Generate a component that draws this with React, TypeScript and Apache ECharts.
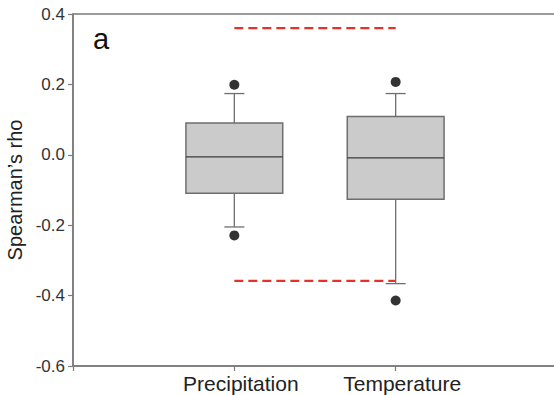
import React, { useEffect, useRef } from "react";
import * as echarts from "echarts";

const categories = ["Precipitation", "Temperature"];
const positions = [1, 2];
const lowerWhisker = [-0.205, -0.366];
const q1 = [-0.109, -0.126];
const median = [-0.006, -0.009];
const q3 = [0.09, 0.109];
const upperWhisker = [0.174, 0.174];
const outliers: [number, number][] = [
  [1, 0.199],
  [1, -0.229],
  [2, 0.207],
  [2, -0.414],
];
const upperThreshold = 0.36;
const lowerThreshold = -0.358;
const yTicks = { min: -0.6, max: 0.4, interval: 0.2 };

const FONT = "'Liberation Sans', Arial, Helvetica, sans-serif";

export default function App() {
  const ref = useRef<HTMLDivElement>(null);
  useEffect(() => {
    if (!ref.current) return;
    const chart = echarts.init(ref.current, null, { renderer: "svg" });
    const boxData = positions.map((p, i) => [
      p,
      lowerWhisker[i],
      q1[i],
      median[i],
      q3[i],
      upperWhisker[i],
    ]);
    const option: any = {
      animation: false,
      backgroundColor: "#ffffff",
      textStyle: { fontFamily: FONT },
      grid: {
        left: 73,
        top: 14,
        width: 484,
        bottom: 29,
        show: true,
        borderColor: "#7a7a7a",
        borderWidth: 1.5,
        backgroundColor: "transparent",
        containLabel: false,
        outerBoundsMode: "none",
      },
      xAxis: {
        type: "value",
        min: 0,
        max: 3,
        interval: 1,
        splitLine: { show: false },
        axisLine: { onZero: false, lineStyle: { color: "#7a7a7a", width: 1.5 } },
        axisTick: { show: true, length: 5, lineStyle: { color: "#7a7a7a", width: 1.2 } },
        axisLabel: {
          color: "#222",
          fontSize: 21,
          fontFamily: FONT,
          margin: 7,
          padding: [0, 0, 0, 13],
          formatter: (v: number) => {
            const idx = positions.indexOf(Math.round(v));
            return idx >= 0 && Math.abs(v - positions[idx]) < 1e-6 ? categories[idx] : "";
          },
        },
      },
      yAxis: {
        type: "value",
        min: yTicks.min,
        max: yTicks.max,
        interval: yTicks.interval,
        name: "Spearman\u2019s rho",
        nameLocation: "middle",
        nameGap: 46,
        nameTextStyle: { color: "#222", fontSize: 20, fontFamily: FONT },
        splitLine: { show: false },
        axisLine: { show: true, onZero: false, lineStyle: { color: "#7a7a7a", width: 1.5 } },
        axisTick: { show: true, length: 5, lineStyle: { color: "#7a7a7a", width: 1.2 } },
        axisLabel: {
          color: "#333",
          fontSize: 17,
          fontFamily: FONT,
          margin: 8,
          formatter: (v: number) => (Math.abs(v) < 1e-9 ? 0 : v).toFixed(1),
        },
      },
      graphic: [
        {
          type: "text",
          left: 93,
          top: 24,
          style: { text: "a", fontSize: 29, fontFamily: FONT, fill: "#111" },
        },
      ],
      series: [
        {
          type: "line",
          data: [
            [positions[0], upperThreshold],
            [positions[1], upperThreshold],
          ],
          symbol: "none",
          lineStyle: { color: "#e8302a", width: 2.2, type: [9, 5] },
          z: 1,
        },
        {
          type: "line",
          data: [
            [positions[0], lowerThreshold],
            [positions[1], lowerThreshold],
          ],
          symbol: "none",
          lineStyle: { color: "#e8302a", width: 2.2, type: [9, 5] },
          z: 1,
        },
        {
          type: "custom",
          z: 2,
          data: boxData,
          renderItem: (params: any, api: any) => {
            const x = api.value(0);
            const lw = api.coord([x, api.value(1)]);
            const b1 = api.coord([x, api.value(2)]);
            const md = api.coord([x, api.value(3)]);
            const b3 = api.coord([x, api.value(4)]);
            const uw = api.coord([x, api.value(5)]);
            const band = api.size([1, 0])[0];
            const half = band * 0.3;
            const cap = band * 0.062;
            const cx = lw[0];
            const gray = "#6e6e6e";
            return {
              type: "group",
              children: [
                {
                  type: "line",
                  shape: { x1: cx, y1: uw[1], x2: cx, y2: b3[1] },
                  style: { stroke: gray, lineWidth: 1.3 },
                },
                {
                  type: "line",
                  shape: { x1: cx, y1: b1[1], x2: cx, y2: lw[1] },
                  style: { stroke: gray, lineWidth: 1.3 },
                },
                {
                  type: "line",
                  shape: { x1: cx - cap, y1: uw[1], x2: cx + cap, y2: uw[1] },
                  style: { stroke: gray, lineWidth: 1.3 },
                },
                {
                  type: "line",
                  shape: { x1: cx - cap, y1: lw[1], x2: cx + cap, y2: lw[1] },
                  style: { stroke: gray, lineWidth: 1.3 },
                },
                {
                  type: "rect",
                  shape: { x: cx - half, y: b3[1], width: half * 2, height: b1[1] - b3[1] },
                  style: { fill: "#cbcbcb", stroke: gray, lineWidth: 1.5 },
                },
                {
                  type: "line",
                  shape: { x1: cx - half, y1: md[1], x2: cx + half, y2: md[1] },
                  style: { stroke: "#3a3a3a", lineWidth: 1.3 },
                },
              ],
            };
          },
        },
        {
          type: "scatter",
          data: outliers,
          symbol: "circle",
          symbolSize: 10,
          itemStyle: { color: "#000" },
          z: 3,
        },
      ],
    };
    chart.setOption(option);
    return () => chart.dispose();
  }, []);
  return (
    <div
      ref={ref}
      style={{ position: "absolute", left: 0, top: 0, width: 554, height: 395 }}
    />
  );
}
